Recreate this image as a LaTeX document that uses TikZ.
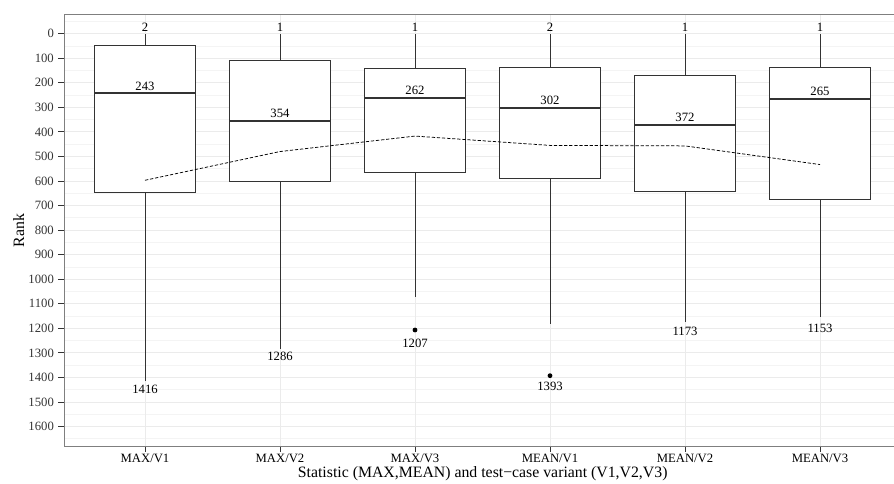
\documentclass[tikz,border=0pt]{standalone}
\usepackage{fontspec}
\setmainfont{Liberation Serif}

\definecolor{gridmajor}{HTML}{EBEBEB}
\definecolor{gridminor}{HTML}{F4F4F4}
\definecolor{boxline}{HTML}{333333}
\definecolor{framegray}{HTML}{7F7F7F}

\tikzset{
	axistext/.style = {font = \fontsize{12.7}{14}\selectfont, inner sep = 0pt},
	catlabel/.style = {axistext, anchor = base, text height = 8.5pt, text depth = 0pt},
	titletext/.style = {font = \fontsize{15.8}{18}\selectfont, inner sep = 0pt, text height = 10.8pt, text depth = 3.3pt},
	boxshape/.style = {draw = boxline, fill = white, line width = 1pt},
	medianline/.style = {draw = boxline, line width = 2.2pt},
	whisker/.style = {draw = boxline, line width = 1pt},
	meanline/.style = {black, dash pattern = on 3.3pt off 1.8pt, line width = 0.75pt}
}

\begin{document}
\begin{tikzpicture}[x = 1pt, y = -1pt]

	% Definitions
	
	\def\T{33.7}	% Row of rank 0
	\def\S{0.2455}	% Rows per rank
	\def\W{50.6}	% Half box width
	\def\L{64.5}	% Panel left
	\def\R{901}	% Panel right
	\def\U{14.7}	% Panel top
	\def\D{446}	% Panel bottom
	
	\useasboundingbox (0, 0) rectangle (894, 483);
	
	% Grid
	
	\foreach \v in {-50, 50, ..., 1650}
		\draw [gridminor, line width = 0.7pt] (\L, {\T + \S * \v}) -- (\R, {\T + \S * \v});
	\foreach \v in {0, 100, ..., 1600}
		\draw [gridmajor, line width = 0.9pt] (\L, {\T + \S * \v}) -- (\R, {\T + \S * \v});
	\foreach \x in {145, 280, 415, 550, 685, 820}
		\draw [gridmajor, line width = 0.9pt] (\x, \U) -- (\x, \D);
	
	% Marks on axes
	
	\foreach \v in {0, 100, ..., 1600}
		\draw [boxline, line width = 0.9pt] (\L, {\T + \S * \v}) -- (58.3, {\T + \S * \v}) node (ylab\v) [axistext, anchor = east, xshift = -4pt] {\v};
	\foreach \x in {145, 280, 415, 550, 685, 820}
		\draw [boxline, line width = 0.9pt] (\x, \D) -- (\x, 451.5);
	
	\node (xlab1) [catlabel] at (145, 462.8) {MAX/V1};
	\node (xlab2) [catlabel] at (280, 462.8) {MAX/V2};
	\node (xlab3) [catlabel] at (415, 462.8) {MAX/V3};
	\node (xlab4) [catlabel] at (550, 462.8) {MEAN/V1};
	\node (xlab5) [catlabel] at (685, 462.8) {MEAN/V2};
	\node (xlab6) [catlabel] at (820, 462.8) {MEAN/V3};
	
	% Axis titles
	
	\node (xtitle) [titletext, anchor = base] at (482.7, 477.6) {Statistic (MAX,MEAN) and test−case variant (V1,V2,V3)};
	\node (ytitle) [titletext, anchor = base, rotate = 90] at (24, 230.4) {Rank};
	
	% MAX/V1
	
	\draw [whisker] (145, {\T + \S * 49}) -- (145, {\T + \S * 2}) node (top1) [axistext, anchor = south, yshift = 2pt] {2};
	\draw [whisker] (145, {\T + \S * 645}) -- (145, {\T + \S * 1416});
	\draw [boxshape] (145 - \W, {\T + \S * 49}) rectangle (145 + \W, {\T + \S * 645});
	\draw [medianline] (145 - \W, {\T + \S * 243}) -- (145 + \W, {\T + \S * 243});
	\node (med1) [axistext, anchor = south] at (145, {\T + \S * 243 - 3}) {243};
	\node (low1) [axistext, anchor = north] at (145, {\T + \S * 1416 + 3.7}) {1416};
	
	% MAX/V2
	
	\draw [whisker] (280, {\T + \S * 110}) -- (280, {\T + \S * 1}) node (top2) [axistext, anchor = south, yshift = 2pt] {1};
	\draw [whisker] (280, {\T + \S * 601}) -- (280, {\T + \S * 1286});
	\draw [boxshape] (280 - \W, {\T + \S * 110}) rectangle (280 + \W, {\T + \S * 601});
	\draw [medianline] (280 - \W, {\T + \S * 354}) -- (280 + \W, {\T + \S * 354});
	\node (med2) [axistext, anchor = south] at (280, {\T + \S * 354 - 3}) {354};
	\node (low2) [axistext, anchor = north] at (280, {\T + \S * 1286 + 2.3}) {1286};
	
	% MAX/V3
	
	\draw [whisker] (415, {\T + \S * 141}) -- (415, {\T + \S * 1}) node (top3) [axistext, anchor = south, yshift = 2pt] {1};
	\draw [whisker] (415, {\T + \S * 566}) -- (415, {\T + \S * 1074});
	\draw [boxshape] (415 - \W, {\T + \S * 141}) rectangle (415 + \W, {\T + \S * 566});
	\draw [medianline] (415 - \W, {\T + \S * 262}) -- (415 + \W, {\T + \S * 262});
	\node (med3) [axistext, anchor = south] at (415, {\T + \S * 262 - 3}) {262};
	\fill (415, {\T + \S * 1207}) circle (2.4pt);
	\node (low3) [axistext, anchor = north] at (415, {\T + \S * 1207 + 8.4}) {1207};
	
	% MEAN/V1
	
	\draw [whisker] (550, {\T + \S * 138}) -- (550, {\T + \S * 2}) node (top4) [axistext, anchor = south, yshift = 2pt] {2};
	\draw [whisker] (550, {\T + \S * 589}) -- (550, {\T + \S * 1183});
	\draw [boxshape] (550 - \W, {\T + \S * 138}) rectangle (550 + \W, {\T + \S * 589});
	\draw [medianline] (550 - \W, {\T + \S * 302}) -- (550 + \W, {\T + \S * 302});
	\node (med4) [axistext, anchor = south] at (550, {\T + \S * 302 - 3}) {302};
	\fill (550, {\T + \S * 1393}) circle (2.4pt);
	\node (low4) [axistext, anchor = north] at (550, {\T + \S * 1393 + 6}) {1393};
	
	% MEAN/V2
	
	\draw [whisker] (685, {\T + \S * 172}) -- (685, {\T + \S * 1}) node (top5) [axistext, anchor = south, yshift = 2pt] {1};
	\draw [whisker] (685, {\T + \S * 641}) -- (685, {\T + \S * 1173});
	\draw [boxshape] (685 - \W, {\T + \S * 172}) rectangle (685 + \W, {\T + \S * 641});
	\draw [medianline] (685 - \W, {\T + \S * 372}) -- (685 + \W, {\T + \S * 372});
	\node (med5) [axistext, anchor = south] at (685, {\T + \S * 372 - 3}) {372};
	\node (low5) [axistext, anchor = north] at (685, {\T + \S * 1173 + 5}) {1173};
	
	% MEAN/V3
	
	\draw [whisker] (820, {\T + \S * 138}) -- (820, {\T + \S * 1}) node (top6) [axistext, anchor = south, yshift = 2pt] {1};
	\draw [whisker] (820, {\T + \S * 675}) -- (820, {\T + \S * 1153});
	\draw [boxshape] (820 - \W, {\T + \S * 138}) rectangle (820 + \W, {\T + \S * 675});
	\draw [medianline] (820 - \W, {\T + \S * 265}) -- (820 + \W, {\T + \S * 265});
	\node (med6) [axistext, anchor = south] at (820, {\T + \S * 265 - 3}) {265};
	\node (low6) [axistext, anchor = north] at (820, {\T + \S * 1153 + 7.5}) {1153};
	
	% Mean line
	
	\coordinate (mean1) at (145, {\T + \S * 597});
	\coordinate (mean2) at (280, {\T + \S * 480});
	\coordinate (mean3) at (415, {\T + \S * 417});
	\coordinate (mean4) at (550, {\T + \S * 455});
	\coordinate (mean5) at (685, {\T + \S * 457});
	\coordinate (mean6) at (820, {\T + \S * 533});
	\draw [meanline] (mean1) -- (mean2) -- (mean3) -- (mean4) -- (mean5) -- (mean6);
	
	% Panel border
	
	\draw [framegray, line width = 0.8pt] (\L, \U) rectangle (\R, \D);

\end{tikzpicture}
\end{document}
